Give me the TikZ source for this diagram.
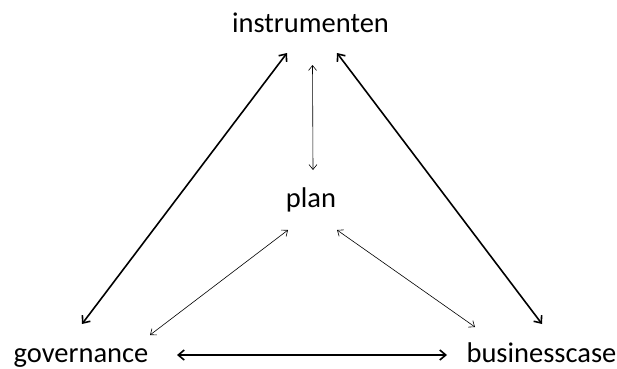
\documentclass[tikz,border=0pt]{standalone}
\usepackage{fontspec}
\setmainfont{Carlito}
\usetikzlibrary{arrows.meta}

\begin{document}
\begin{tikzpicture}[
  x=1pt, y=1pt,
  term/.style = {
    inner sep=0pt, anchor=base,
    font=\fontsize{28.5}{32}\selectfont
  },
  strong/.style = {
    <->, >={Straight Barb[length=6pt,width=10pt]}, line width=1.6pt
  },
  weak/.style = {
    <->, >={Straight Barb[length=5pt,width=8pt]}, line width=0.6pt
  }
]
\useasboundingbox (0,0) rectangle (617,368);

% ====== TERMS ======
\node[term] (instr) at (310.5,336) {instrumenten};
\node[term] (plan) at (311,161) {plan};
\node[term] (gov) at (81,6) {governance};
\node[term] (bus) at (541.5,6) {businesscase};

% ====== OUTER TRIANGLE ======
\draw[strong] ([shift={(-23.5,-21)}]instr.base) -- ([shift={(1,38)}]gov.base);
\draw[strong] ([shift={(26.5,-21)}]instr.base) -- ([shift={(0.5,38)}]bus.base);
\draw[strong] ([shift={(96,7)}]gov.base) -- ([shift={(-94.5,7)}]bus.base);

% ====== TO THE PLAN ======
\draw[weak] ([shift={(2,-33)}]instr.base) -- ([shift={(2,37)}]plan.base);
\draw[weak] ([shift={(-23,-23)}]plan.base) -- ([shift={(69,27)}]gov.base);
\draw[weak] ([shift={(26,-23)}]plan.base) -- ([shift={(-66.5,35)}]bus.base);

\end{tikzpicture}
\end{document}
